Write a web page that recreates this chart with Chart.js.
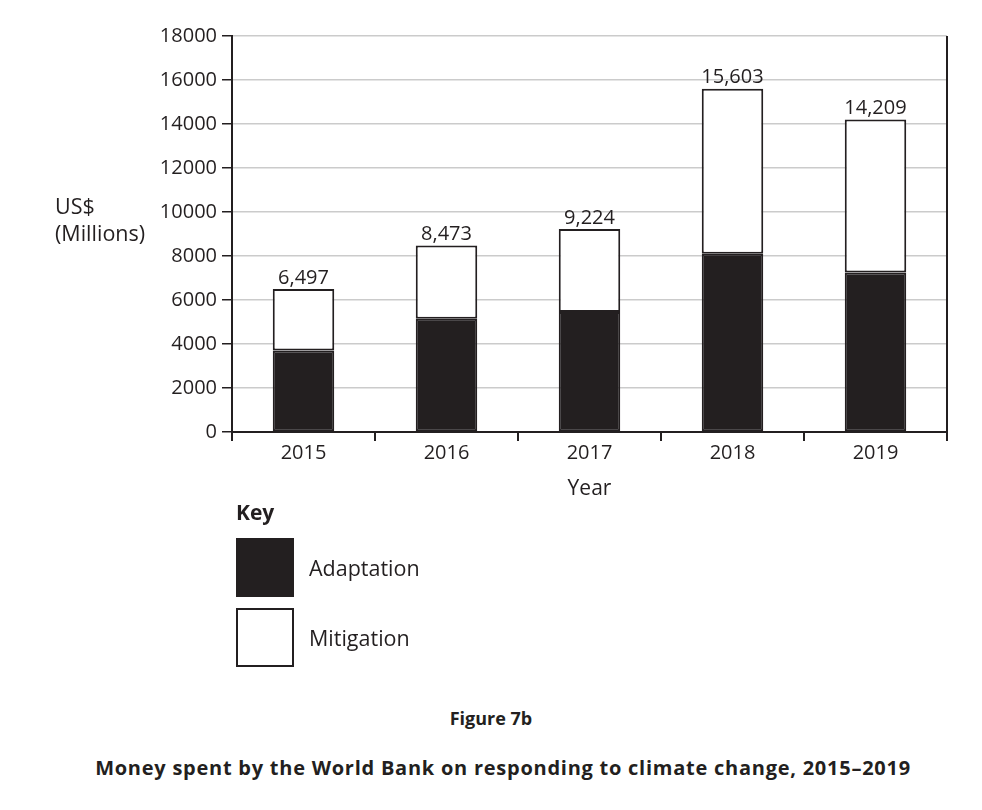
<!DOCTYPE html>
<html>
<head>
<meta charset="utf-8">
<script src="https://cdn.jsdelivr.net/npm/chart.js@4"></script>
<style>
  body { margin: 0; background: #fff; font-family: "Open Sans", sans-serif; color: #231f20; }
  #wrap { position: relative; width: 982px; height: 810px; }
  #chartBox { position: absolute; left: 0; top: 0; width: 982px; height: 505px; }
  .txt { position: absolute; font-size: 21.5px; line-height: 24px; white-space: nowrap; }
  #yTitle { left: 55px; top: 192px; line-height: 27px; }
  #key { left: 236px; top: 500px; font-weight: bold; font-size: 21px; }
  .swatch { position: absolute; left: 236px; width: 54px; height: 55px; border: 2px solid #231f20; }
  #fig { left: 0; width: 982px; text-align: center; top: 706px; font-weight: bold; font-size: 18px; }
  #caption { left: 12px; width: 982px; text-align: center; top: 756px; font-weight: bold; font-size: 20px; letter-spacing: 0.75px; }
</style>
</head>
<body>
<div id="wrap">
  <div id="chartBox"><canvas id="chart"></canvas></div>
  <div class="txt" id="yTitle">US$<br>(Millions)</div>
  <div class="txt" id="key">Key</div>
  <div id="legend"></div>
  <div class="txt" id="fig">Figure 7b</div>
  <div class="txt" id="caption">Money spent by the World Bank on responding to climate change, 2015–2019</div>
</div>
<script>
const years = ['2015', '2016', '2017', '2018', '2019'];
const adaptation = [3700, 5150, 5450, 8100, 7250];
const mitigation = [2797, 3323, 3774, 7503, 6959];
const totals = [6497, 8473, 9224, 15603, 14209];
const yTicks = [0, 2000, 4000, 6000, 8000, 10000, 12000, 14000, 16000, 18000];

const ink = '#231f20';

// totals written above each stack
const totalLabels = {
  id: 'totalLabels',
  afterDatasetsDraw(chart) {
    const ctx = chart.ctx;
    const bars = chart.getDatasetMeta(1).data;
    ctx.save();
    ctx.font = '20px "Open Sans"';
    ctx.fillStyle = ink;
    ctx.textAlign = 'center';
    ctx.textBaseline = 'bottom';
    bars.forEach((bar, i) => {
      ctx.fillText(totals[i].toLocaleString('en-US'), bar.x, bar.y - 1);
    });
    ctx.restore();
  }
};

// closing line on the right side of the plot
const rightFrame = {
  id: 'rightFrame',
  afterDraw(chart) {
    const { ctx, chartArea: a } = chart;
    ctx.save();
    ctx.strokeStyle = ink;
    ctx.lineWidth = 2;
    ctx.beginPath();
    ctx.moveTo(a.right, a.top);
    ctx.lineTo(a.right, a.bottom + 9);
    ctx.stroke();
    ctx.restore();
  }
};

const chart = new Chart(document.getElementById('chart'), {
  type: 'bar',
  data: {
    labels: years,
    datasets: [
      { label: 'Adaptation', data: adaptation, backgroundColor: ink, borderColor: ink,
        borderWidth: 2, borderSkipped: false },
      { label: 'Mitigation', data: mitigation, backgroundColor: '#ffffff', borderColor: ink,
        borderWidth: 2, borderSkipped: false }
    ]
  },
  options: {
    responsive: true,
    maintainAspectRatio: false,
    animation: false,
    layout: { padding: { top: 36, right: 35, left: 0, bottom: 0 } },
    plugins: { legend: { display: false }, tooltip: { enabled: false } },
    datasets: { bar: { categoryPercentage: 1, barPercentage: 0.43 } },
    scales: {
      x: {
        stacked: true,
        afterFit(s) { s.height = 73; },
        grid: { offset: true, drawOnChartArea: false, tickLength: 9, tickColor: ink, lineWidth: 2 },
        border: { color: ink, width: 2 },
        ticks: { color: ink, font: { family: 'Open Sans', size: 20 }, padding: 0 },
        title: { display: true, text: 'Year', color: ink, font: { family: 'Open Sans', size: 21 },
          padding: { top: 0, bottom: 3 } }
      },
      y: {
        stacked: true,
        min: 0,
        max: 18000,
        afterFit(s) { s.width = 232; },
        afterBuildTicks(s) { s.ticks = yTicks.map(v => ({ value: v })); },
        grid: { color: '#cbcbcb', lineWidth: 1.5, tickColor: ink, tickLength: 10 },
        border: { color: ink, width: 2 },
        ticks: { color: ink, font: { family: 'Open Sans', size: 20 }, padding: 5,
          callback: v => String(v) }
      }
    }
  },
  plugins: [totalLabels, rightFrame]
});

// key built from the datasets
const legend = document.getElementById('legend');
const keyTops = [538, 608];
chart.data.datasets.forEach((ds, i) => {
  const sw = document.createElement('div');
  sw.className = 'swatch';
  sw.style.top = keyTops[i] + 'px';
  sw.style.background = ds.backgroundColor;
  legend.appendChild(sw);
  const t = document.createElement('div');
  t.className = 'txt';
  t.style.left = '309px';
  t.style.top = (keyTops[i] + 18) + 'px';
  t.textContent = ds.label;
  legend.appendChild(t);
});
</script>
</body>
</html>
